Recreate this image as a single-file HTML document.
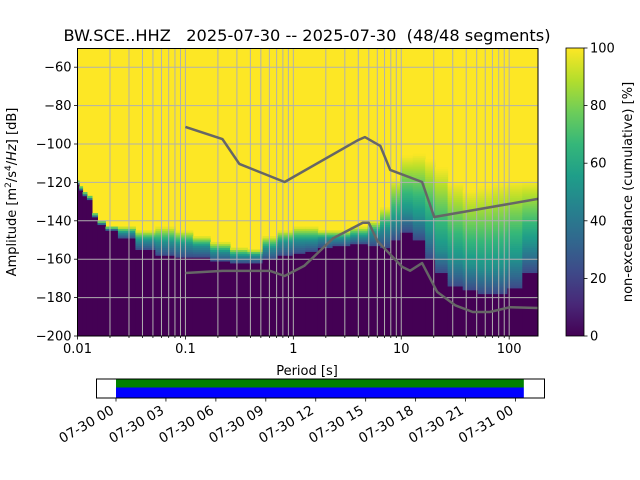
<!DOCTYPE html>
<html><head><meta charset="utf-8"><style>
html,body{margin:0;padding:0;background:#fff;}
svg{display:block;font-family:"DejaVu Sans","Liberation Sans",sans-serif;}
</style></head><body>
<svg id="c" width="640" height="480" viewBox="0 0 640 480" xmlns="http://www.w3.org/2000/svg">
<text x="307" y="41" font-size="16.2" text-anchor="middle" xml:space="preserve">BW.SCE..HHZ   2025-07-30 -- 2025-07-30  (48/48 segments)</text>
<g id="heat"></g>
<g id="grid"></g>
<g id="models"></g>
<rect x="77.5" y="48.5" width="460.5" height="287.5" fill="none" stroke="#000" stroke-width="1"/>
<g id="xt"></g>
<g id="yt"></g>
<text x="307" y="375" font-size="13" text-anchor="middle">Period [s]</text>
<text transform="translate(16,192) rotate(-90)" font-size="13" text-anchor="middle">Amplitude [m<tspan font-size="9" dy="-5">2</tspan><tspan dy="5">/s</tspan><tspan font-size="9" dy="-5">4</tspan><tspan dy="5">/</tspan><tspan font-style="italic">Hz</tspan>] [dB]</text>
<defs><linearGradient id="vir" x1="0" y1="1" x2="0" y2="0"></linearGradient></defs>
<rect x="566" y="48" width="18" height="288" fill="url(#vir)" stroke="#000" stroke-width="0.8"/>
<g id="cbt"></g>
<text transform="translate(632,192) rotate(-90)" font-size="13" text-anchor="middle">non-exceedance (cumulative) [%]</text>
<g id="tl"></g>
</svg>
<script>
const NS="http://www.w3.org/2000/svg";
// heatmap data: period (s), cumulative ~20%, 50%, 100% levels (dB)
const periods=[0.01,0.0107,0.0116,0.0129,0.0144,0.0163,0.0202,0.0278,0.0426,0.065,0.1,0.137,0.21,0.32,0.44,0.61,0.84,1.16,1.44,1.98,2.7,4.2,5.7,7.1,8.8,10.9,15.0,18.5,22.9,31.6,43.6,60,82,113,155];
const lowDb=[-121,-124,-127,-129,-138,-142,-145,-149,-155,-158,-159,-159,-161,-162,-162,-160,-158,-157,-156,-154,-153,-152,-153,-154,-150,-146,-150,-160,-167,-174,-176,-178,-178,-175,-167];
const midDb=[-120,-123,-126,-128,-137,-141,-144,-146,-150,-151,-152,-153,-156,-158,-158,-154,-151,-150,-150,-149,-149,-148,-146,-144,-140,-135,-138,-145,-155,-160,-163,-165,-164,-160,-152];
const highDb=[-119,-122,-125,-127,-136,-140,-143,-143,-145,-143,-145,-148,-151,-154,-155,-148,-145,-143,-143,-145,-145,-143,-140,-133,-118,-106,-105,-108,-112,-120,-124,-122,-120,-119,-119];
// noise models
const nhnmP=[0.1,0.22,0.316,0.83,4.0,4.6,6.4,7.9,15.6,20.2,185];
const nhnmDb=[-91.1,-97.4,-110.4,-119.8,-97.9,-96.4,-101,-113.5,-119.8,-138,-128.6];
const nlnmP=[0.1,0.22,0.61,0.83,1.26,2.35,4.4,5.0,6.0,10.2,12.1,15.6,21.5,31.6,46,66,102,185];
const nlnmDb=[-167.2,-166.1,-166.1,-168.75,-163.5,-149,-141,-141,-150.5,-164,-166,-162,-177,-184,-187.5,-187.5,-185,-185.4];
const xTicks=[0.01,0.1,1,10,100];
const xTickLabels=["0.01","0.1","1","10","100"];
const yTicks=[-60,-80,-100,-120,-140,-160,-180,-200];
const cbTicks=[0,20,40,60,80,100];
const timeLabels=["07-30 00","07-30 03","07-30 06","07-30 09","07-30 12","07-30 15","07-30 18","07-30 21","07-31 00"];
const timeHours=[0,3,6,9,12,15,18,21,24];
const coverage=[[0,24.5]];

const X0=77.5,X1=538,Y0=48,Y1=336,LMIN=-2,LMAX=Math.log10(185),DMIN=-200,DMAX=-50;
const xs=p=>X0+(Math.log10(p)-LMIN)/(LMAX-LMIN)*(X1-X0);
const ys=d=>Y1-(d-DMIN)/(DMAX-DMIN)*(Y1-Y0);
const vir=[[68,1,84],[72,40,120],[62,74,137],[49,104,142],[38,130,142],[31,158,137],[53,183,121],[109,205,89],[180,222,44],[253,231,37]];
function cmap(t){t=Math.max(0,Math.min(1,t));const f=t*(vir.length-1),i=Math.min(vir.length-2,Math.floor(f)),u=f-i;const c=vir[i].map((v,k)=>Math.round(v+(vir[i+1][k]-v)*u));return `rgb(${c[0]},${c[1]},${c[2]})`;}
function mk(tag,attrs,parent){const e=document.createElementNS(NS,tag);for(const k in attrs)e.setAttribute(k,attrs[k]);parent.appendChild(e);return e;}
const heat=document.getElementById('heat');
mk('rect',{x:X0,y:Y0,width:X1-X0,height:Y1-Y0,fill:cmap(1)},heat);
const PX=(Y1-Y0)/(DMAX-DMIN);
const V0=0.22;
for(let i=0;i<periods.length;i++){
  const lp=Math.log10(periods[i]);
  const a=i==0?LMIN:(lp+Math.log10(periods[i-1]))/2;
  const b=i==periods.length-1?LMAX:(lp+Math.log10(periods[i+1]))/2;
  const xa=X0+(a-LMIN)/(LMAX-LMIN)*(X1-X0),xb=X0+(b-LMIN)/(LMAX-LMIN)*(X1-X0);
  const lo=lowDb[i],md=midDb[i],hi=highDb[i];
  const r=mk('rect',{x:xa,y:ys(lo),width:xb-xa+0.5,height:Y1-ys(lo),fill:cmap(0)},heat);
  
  
  for(let d=Math.floor(lo);d<hi;d++){
    const c=d+0.5;let v;
    if(c<=lo)v=0;else if(c<md)v=V0+(0.5-V0)*(c-lo)/(md-lo);else if(c<hi)v=0.5+0.5*(c-md)/(hi-md);else v=1;
    const cell=mk('rect',{x:xa,y:ys(d+1),width:xb-xa+0.5,height:PX+0.4,fill:cmap(v)},heat);
    
    
  }
}
const grid=document.getElementById('grid');
for(let e=-2;e<=2;e++)for(let m=1;m<10;m++){const p=m*Math.pow(10,e);const x=xs(p);if(x<=X0+0.5||x>X1)continue;mk('line',{x1:x,x2:x,y1:Y0,y2:Y1,stroke:'#b0b0b0','stroke-width':1},grid);}
yTicks.forEach(d=>{const y=ys(d);if(y>=Y1-0.5)return;mk('line',{x1:X0,x2:X1,y1:y,y2:y,stroke:'#b0b0b0','stroke-width':1},grid);});
const models=document.getElementById('models');
function poly(P,D,name){const l=mk('polyline',{points:P.map((p,i)=>xs(p)+','+ys(D[i])).join(' '),fill:'none',stroke:'#666','stroke-width':2.5,'stroke-linejoin':'round'},models);}
poly(nhnmP,nhnmDb,'nhnm-line');poly(nlnmP,nlnmDb,'nlnm-line');
const xt=document.getElementById('xt');
for(let e=-2;e<=2;e++)for(let m=1;m<10;m++){const p=m*Math.pow(10,e);const x=xs(p);if(x<X0-0.5||x>X1)continue;mk('line',{x1:x,x2:x,y1:Y1,y2:Y1+(m==1?3.5:2),stroke:'#000','stroke-width':0.8},xt);}
xTicks.forEach((p,i)=>{const t=mk('text',{x:xs(p),y:Y1+17,'font-size':13,'text-anchor':'middle'},xt);t.textContent=xTickLabels[i];});
const yt=document.getElementById('yt');
yTicks.forEach(d=>{const y=ys(d);mk('line',{x1:X0-3.5,x2:X0,y1:y,y2:y,stroke:'#000','stroke-width':0.8},yt);const t=mk('text',{x:X0-6,y:y+4.5,'font-size':13,'text-anchor':'end'},yt);t.textContent=String(d).replace('-','\u2212');});
const g=document.getElementById('vir');
vir.forEach((c,i)=>mk('stop',{offset:i/(vir.length-1),'stop-color':`rgb(${c})`},g));
const cbt=document.getElementById('cbt');
cbTicks.forEach(v=>{const y=Y1-v/100*(Y1-Y0);mk('line',{x1:584,x2:587.5,y1:y,y2:y,stroke:'#000','stroke-width':0.8},cbt);const t=mk('text',{x:590,y:y+4.5,'font-size':13},cbt);t.textContent=v;});
const tl=document.getElementById('tl');
const T0=116,TH=(515.5-116)/24;
const tx=h=>T0+h*TH;
coverage.forEach(c=>{const a=mk('rect',{x:tx(c[0]),y:379,width:tx(c[1])-tx(c[0]),height:8.5,fill:'#008000'},tl);const b=mk('rect',{x:tx(c[0]),y:387.5,width:tx(c[1])-tx(c[0]),height:10.5,fill:'#0000ff'},tl);});
mk('rect',{x:96.5,y:379,width:448,height:19,fill:'none',stroke:'#000','stroke-width':1},tl);
timeHours.forEach((h,i)=>{const x=tx(h);mk('line',{x1:x,x2:x,y1:398,y2:401.5,stroke:'#000','stroke-width':0.8},tl);const t=mk('text',{transform:`translate(${x-1},${413}) rotate(-30)`,'font-size':13.5,'text-anchor':'end'},tl);t.textContent=timeLabels[i];});
</script>
</body></html>
